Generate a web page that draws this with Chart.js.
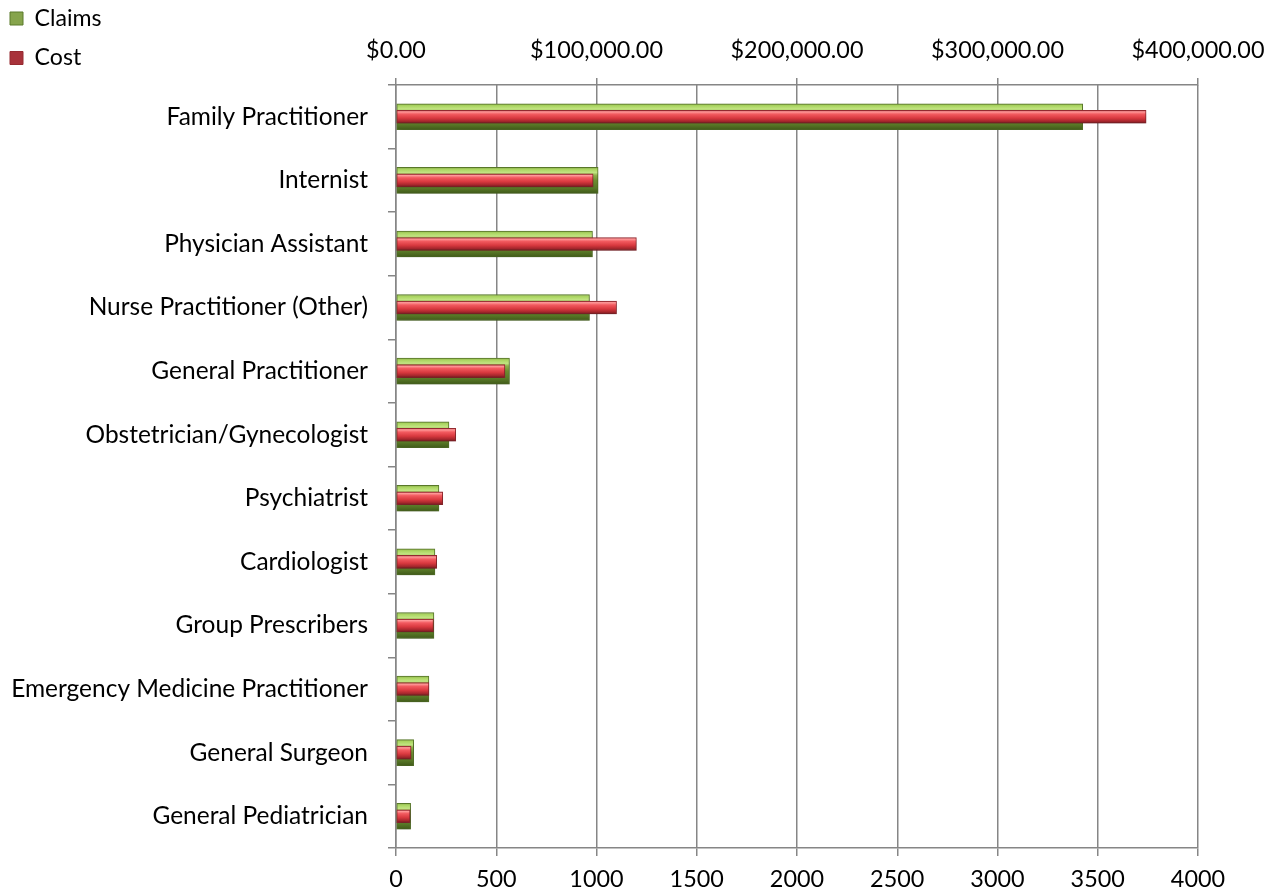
<!DOCTYPE html>
<html>
<head>
<meta charset="utf-8">
<script src="https://cdn.jsdelivr.net/npm/chart.js@4.4.1/dist/chart.umd.min.js"></script>
<style>
html,body{margin:0;padding:0;background:#fff;}
#wrap{width:1280px;height:895px;position:relative;}
</style>
</head>
<body>
<div id="wrap"><canvas id="c"></canvas></div>
<script>
// ---- data ----
const categories = [
  "Family Practitioner",
  "Internist",
  "Physician Assistant",
  "Nurse Practitioner (Other)",
  "General Practitioner",
  "Obstetrician/Gynecologist",
  "Psychiatrist",
  "Cardiologist",
  "Group Prescribers",
  "Emergency Medicine Practitioner",
  "General Surgeon",
  "General Pediatrician"
];
const claims = [3425, 1008, 980, 965, 566, 264, 214, 194, 189, 164, 88, 73];
const cost = [374100, 98300, 119900, 110000, 54300, 29800, 23300, 20300, 18700, 16400, 7500, 7000];
const claimTicks = [0, 500, 1000, 1500, 2000, 2500, 3000, 3500, 4000];
const costTicks = [0, 100000, 200000, 300000, 400000];
const seriesNames = ["Claims", "Cost"];

// ---- styling helpers ----
const FAMILY = "Lato, 'Noto Sans', sans-serif";
function fitSize(text, target) {
  const c = document.createElement('canvas').getContext('2d');
  c.font = '100px ' + FAMILY;
  return 100 * target / c.measureText(text).width;
}
const yFont = fitSize("Emergency Medicine Practitioner", 357);
const tickFont = fitSize("$100,000.00", 133);
const legendFont = fitSize("Claims", 67);

const AREA_LEFT = 396, AREA_TOP = 85, AREA_RIGHT = 1198, AREA_BOTTOM = 848;
const W = 1280, H = 895;
const LEG_PAD = 39.5 - legendFont;
const PAD_LEFT = 10 - LEG_PAD;
const PAD_TOP = 18.5 - LEG_PAD - legendFont / 2;
const GRID = '#868686';

function gradFill(stops, solid) {
  return (ctx) => {
    const el = ctx.element;
    if (!el || typeof el.y !== 'number' || !isFinite(el.y) || !el.height) return solid;
    const g = ctx.chart.ctx.createLinearGradient(0, el.y - el.height / 2, 0, el.y + el.height / 2);
    stops.forEach(s => g.addColorStop(s[0], s[1]));
    return g;
  };
}
const greenStops = [[0,'#86a44c'],[0.07,'#a9d45f'],[0.2,'#c2e482'],[0.3,'#8fb24a'],[0.5,'#6d8d31'],[0.8,'#587827'],[1,'#405a19']];
const redStops = [[0,'#a8323a'],[0.12,'#ff9a9a'],[0.3,'#f25a5f'],[0.6,'#d9393f'],[0.85,'#a5262c'],[1,'#6c191d']];

const shadowPlugin = {
  id: 'barShadow',
  beforeDatasetsDraw(chart) {
    const c = chart.ctx;
    c.save();
    c.shadowColor = 'rgba(0,0,0,0.25)';
    c.shadowBlur = 5;
    c.shadowOffsetY = 3;
    c.shadowOffsetX = 1;
  },
  afterDatasetsDraw(chart) { chart.ctx.restore(); }
};

const fmtMoney = v => '$' + Number(v).toLocaleString('en-US', {minimumFractionDigits: 2, maximumFractionDigits: 2});

const chart = new Chart(document.getElementById('c'), {
  type: 'bar',
  data: {
    labels: categories,
    datasets: [
      {
        label: seriesNames[0], data: claims, xAxisID: 'x', yAxisID: 'y',
        barThickness: 26, grouped: false, order: 1,
        backgroundColor: gradFill(greenStops, '#76a03a'),
        borderColor: '#5a7a2a', borderWidth: 1, borderSkipped: false
      },
      {
        label: seriesNames[1], data: cost, xAxisID: 'x2', yAxisID: 'y',
        barThickness: 13, grouped: false, order: 0,
        backgroundColor: gradFill(redStops, '#d6444b'),
        borderColor: '#962a30', borderWidth: 1, borderSkipped: false
      }
    ]
  },
  options: {
    indexAxis: 'y',
    responsive: true,
    maintainAspectRatio: false,
    animation: false,
    events: [],
    layout: { padding: { left: PAD_LEFT, top: PAD_TOP, right: W - AREA_RIGHT, bottom: 0 } },
    plugins: {
      tooltip: { enabled: false },
      legend: {
        position: 'left', align: 'start',
        labels: {
          boxWidth: 13, boxHeight: 13, padding: LEG_PAD, color: '#000',
          font: { family: FAMILY, size: legendFont },
          sort: (a, b) => a.datasetIndex - b.datasetIndex
        }
      }
    },
    scales: {
      y: {
        type: 'category', position: 'left', offset: true,
        grid: { display: true, drawOnChartArea: false, offset: true, tickLength: 8, color: GRID, lineWidth: 1.5 },
        border: { display: true, color: GRID, width: 1.5 },
        ticks: { color: '#000', font: { family: FAMILY, size: yFont }, padding: 20 },
        afterFit: s => {
          const lw = s.chart.legend ? s.chart.legend.width : 0;
          s.width = AREA_LEFT - PAD_LEFT - lw;
          // let long category labels extend left past the legend column
          s._computeLabelArea = () => undefined;
        }
      },
      x: {
        type: 'linear', position: 'bottom', min: 0, max: 4000,
        afterBuildTicks: s => { s.ticks = claimTicks.map(v => ({ value: v })); },
        grid: { color: GRID, lineWidth: 1.5, tickLength: 8 },
        border: { display: true, color: GRID, width: 1.5 },
        ticks: { color: '#000', font: { family: FAMILY, size: tickFont }, padding: 879 - AREA_BOTTOM - 8 - 0.6 * tickFont, maxRotation: 0, autoSkip: false, callback: v => String(v) },
        afterFit: s => { s.height = H - AREA_BOTTOM; }
      },
      x2: {
        type: 'linear', position: 'top', min: 0, max: 400000,
        afterBuildTicks: s => { s.ticks = costTicks.map(v => ({ value: v })); },
        grid: { drawOnChartArea: false, color: GRID, lineWidth: 1.5, tickLength: 7 },
        border: { display: true, color: GRID, width: 1.5 },
        ticks: { color: '#000', font: { family: FAMILY, size: tickFont }, padding: AREA_TOP - 50 - 7 - 0.6 * tickFont, maxRotation: 0, autoSkip: false, callback: v => fmtMoney(v) },
        afterFit: s => { s.height = AREA_TOP - PAD_TOP; }
      }
    }
  },
  plugins: [shadowPlugin]
});
chart.update('none');
</script>
</body>
</html>
